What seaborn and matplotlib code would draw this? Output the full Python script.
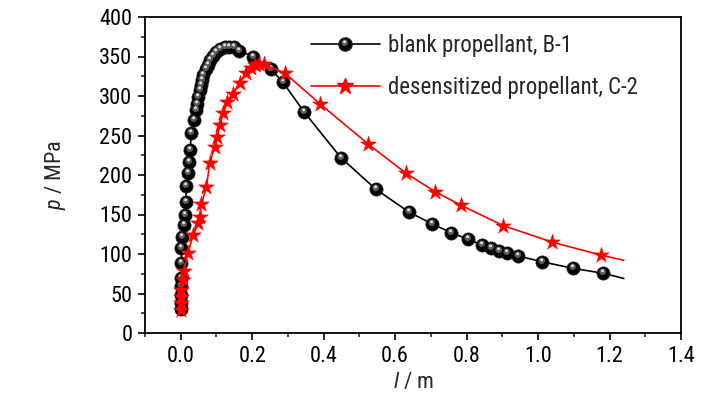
import numpy as np
import pandas as pd
import matplotlib
matplotlib.use("Agg")
import matplotlib.pyplot as plt
from matplotlib.markers import MarkerStyle
from matplotlib.transforms import Affine2D
from matplotlib.lines import Line2D
from matplotlib.legend_handler import HandlerTuple
import seaborn as sns

# ---------------- data ----------------
b1_l = [0.0, 0.0, 0.0, 0.0, 0.0, 0.002, 0.002, 0.004, 0.009, 0.011, 0.014, 0.016,
        0.020, 0.023, 0.026, 0.030, 0.036, 0.042, 0.046, 0.049, 0.053, 0.056, 0.060,
        0.063, 0.070, 0.075, 0.081, 0.089, 0.098, 0.109, 0.123, 0.136, 0.150, 0.162,
        0.203, 0.252, 0.285, 0.345, 0.448, 0.546, 0.639, 0.704, 0.757, 0.804, 0.843,
        0.867, 0.890, 0.914, 0.944, 1.010, 1.097, 1.183]
b1_p = [30, 38, 48, 59, 69, 88, 107, 122, 137, 149, 166, 186,
        203, 217, 232, 253, 270, 282, 290, 299, 308, 314, 320,
        327, 334, 339, 346, 351, 356, 359.5, 362, 362.5, 362, 357.5,
        350, 334, 318, 280, 222, 182, 153, 138, 127, 118.6, 111.4,
        107.2, 104.2, 101.6, 97.5, 90.3, 81.9, 75.6]
b1_tail_l = 1.24
b1_tail_p = 69

c2_l = [0.0, 0.0, 0.0, 0.0, 0.005, 0.009, 0.020, 0.035, 0.049, 0.053, 0.058, 0.072,
        0.081, 0.095, 0.102, 0.109, 0.119, 0.130, 0.145, 0.165, 0.182, 0.196, 0.208,
        0.220, 0.233, 0.291, 0.390, 0.525, 0.631, 0.712, 0.783, 0.902, 1.040, 1.175]
c2_p = [29, 38, 46, 54, 67, 78, 101, 124, 139, 147, 163, 185,
        215, 236, 248, 263, 278, 292, 302, 317, 329, 335, 339,
        341, 340, 329, 290, 239, 202, 179, 162, 136, 115, 98.7]
c2_tail_l = 1.24
c2_tail_p = 92

series_labels = ["blank propellant, B-1", "desensitized propellant, C-2"]
x_ticks = [0.0, 0.2, 0.4, 0.6, 0.8, 1.0, 1.2, 1.4]
y_ticks = [0, 50, 100, 150, 200, 250, 300, 350, 400]

# ---------------- style ----------------
sns.set_style("white")
FAM = ["Roboto Condensed", "Archivo Narrow", "Liberation Sans", "DejaVu Sans"]
plt.rcParams["font.family"] = FAM
plt.rcParams["mathtext.fontset"] = "custom"
plt.rcParams["mathtext.rm"] = "Roboto Condensed"
plt.rcParams["mathtext.it"] = "Roboto Condensed:italic"

fig = plt.figure(figsize=(7.28, 3.99), dpi=100)
ax = fig.add_axes([145 / 728, 1 - 333 / 399, (681 - 145) / 728, (333 - 17) / 399])

b1_line = pd.DataFrame({"l": b1_l + [b1_tail_l], "p": b1_p + [b1_tail_p]})
c2_line = pd.DataFrame({"l": c2_l + [c2_tail_l], "p": c2_p + [c2_tail_p]})
b1 = pd.DataFrame({"l": b1_l, "p": b1_p})
c2 = pd.DataFrame({"l": c2_l, "p": c2_p})

LW = 1.2
MS_B = 9.5
MS_S = 12.0

sns.lineplot(data=b1_line, x="l", y="p", sort=False, estimator=None, color="black",
             lw=LW, ax=ax, zorder=2)

# ball markers: black disc + soft highlight
hl1 = MarkerStyle("o", transform=Affine2D().scale(0.5).translate(-0.06, 0.13))
hl2 = MarkerStyle("o", transform=Affine2D().scale(0.22).translate(-0.07, 0.2))
ax.scatter(b1["l"], b1["p"], s=MS_B ** 2, marker="o", color="black",
           edgecolors="#202020", linewidths=0.5, zorder=3)
ax.scatter(b1["l"], b1["p"], s=MS_B ** 2, marker=hl1, color="#5a5a5a",
           linewidths=0, zorder=3.1)
ax.scatter(b1["l"], b1["p"], s=MS_B ** 2, marker=hl2, color="#e0e0e0",
           linewidths=0, zorder=3.2)

sns.lineplot(data=c2_line, x="l", y="p", sort=False, estimator=None, color="#ff0000",
             lw=LW, ax=ax, zorder=4)
sns.scatterplot(data=c2, x="l", y="p", marker="*", s=MS_S ** 2, color="#ff0000",
                edgecolor="#ff0000", linewidth=0.3, ax=ax, zorder=5)

ax.set_xlim(-0.1, 1.4)
ax.set_ylim(0, 400)
ax.set_xticks(x_ticks)
ax.set_xticklabels([f"{v:.1f}" for v in x_ticks])
ax.set_yticks(y_ticks)
ax.set_yticklabels([str(v) for v in y_ticks])
ax.set_xticks(np.arange(-0.1, 1.41, 0.2), minor=True)
ax.set_yticks(np.arange(25, 400, 50), minor=True)

for s in ax.spines.values():
    s.set_visible(True)
    s.set_color("black")
    s.set_linewidth(1.3)

ax.tick_params(axis="both", which="major", direction="out", length=5, width=1.2,
               labelsize=16, pad=4, bottom=True, left=True, top=False, right=False,
               colors="black")
ax.tick_params(axis="both", which="minor", direction="out", length=2.6, width=1.2,
               bottom=True, left=True, top=False, right=False)

ax.set_xlabel(r"$\it{l}$ / m", fontsize=16)
ax.set_ylabel(r"$\it{p}$ / MPa", fontsize=16)
ax.xaxis.set_label_coords(0.5, (333 - 372) / 316)
ax.yaxis.set_label_coords((68 - 145) / 536, 0.5)

# legend with ball-style handle
h_b = (Line2D([], [], color="black", lw=LW, marker="o", ms=MS_B, mfc="black", mec="#202020"),
       Line2D([], [], ls="none", marker=hl1, ms=MS_B, mfc="#5a5a5a", mec="none"),
       Line2D([], [], ls="none", marker=hl2, ms=MS_B, mfc="#e0e0e0", mec="none"))
h_c = Line2D([], [], color="#ff0000", lw=LW, marker="*", ms=MS_S, mfc="#ff0000", mec="#ff0000")
leg = ax.legend([h_b, h_c], series_labels, handler_map={tuple: HandlerTuple(ndivide=1, pad=0)},
                loc="upper left", bbox_to_anchor=(311 / 728, 1 - 34 / 399),
                bbox_transform=fig.transFigure, frameon=False, fontsize=16.5,
                handlelength=3.0, handletextpad=0.35, labelspacing=0.85,
                borderpad=0, borderaxespad=0)

fig.savefig("out.png", dpi=100)
